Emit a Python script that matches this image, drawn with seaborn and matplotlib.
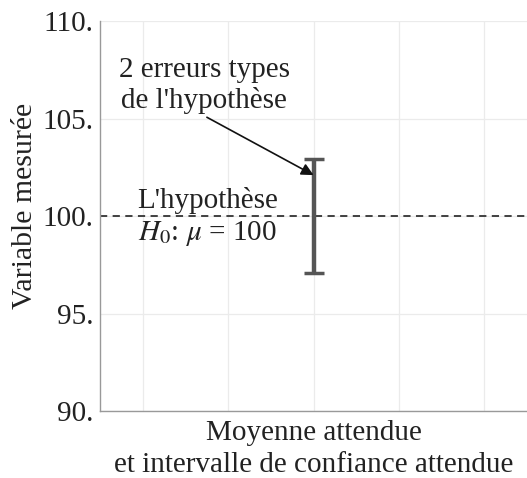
import numpy as np
import seaborn as sns
import matplotlib.pyplot as plt
from matplotlib.ticker import FuncFormatter

# data
mean_x = [0]
mean_y = [100.0]
half_width = [2.94]
h0_value = 100
y_ticks = [90, 95, 100, 105, 110]
x_grid = [-2, -1, 0, 1, 2]

sns.set_style('whitegrid')
plt.rcParams['font.family'] = ['Liberation Serif', 'DejaVu Serif']
plt.rcParams['mathtext.fontset'] = 'stix'
plt.rcParams['text.color'] = '#222222'

fig = plt.figure(figsize=(5.27, 4.78), dpi=100)
ax = fig.add_axes([0.19, 0.14, 0.81, 0.816])

# error bar (expected mean and confidence interval)
ax.errorbar(mean_x, mean_y, yerr=half_width, fmt='none', ecolor='#555555',
            elinewidth=3.2, capsize=7, capthick=2.5, zorder=3)

# hypothesis line
ax.axhline(h0_value, color='#333333', linestyle=(0, (4, 3)), linewidth=1.3, zorder=2)

# annotations
ax.annotate("2 erreurs types\nde l'hypothèse", xy=(0, 102.1), xytext=(-1.28, 106.7),
            ha='center', va='center', fontsize=21, linespacing=1.2,
            arrowprops=dict(arrowstyle='-|>', color='#111111', lw=1.2,
                            shrinkA=0, shrinkB=0, mutation_scale=18,
                            relpos=(0.48, 0.0)),
            zorder=4)
ax.text(-1.24, 100.82, "L'hypothèse", ha='center', va='center', fontsize=21)
ax.text(-1.24, 99.13, r"$H_0$: $\mu$ = 100", ha='center', va='center', fontsize=21)

ax.set_xlim(-2.5, 2.5)
ax.set_ylim(90, 110)
ax.set_xticks(x_grid)
ax.set_xticklabels([])
ax.set_yticks(y_ticks)
ax.yaxis.set_major_formatter(FuncFormatter(lambda v, p: f'{v:.0f}.'))
ax.tick_params(axis='y', labelsize=21, length=0, pad=5, labelcolor='#222222')
ax.tick_params(axis='x', length=0)
ax.grid(True, color='#ebebeb', linewidth=0.9)

for side in ['top', 'right']:
    ax.spines[side].set_visible(False)
for side in ['left', 'bottom']:
    ax.spines[side].set_color('#999999')
    ax.spines[side].set_linewidth(1.0)

ax.set_xlabel('Moyenne attendue\net intervalle de confiance attendue', fontsize=21,
              linespacing=1.3, labelpad=3, color='#222222')
ax.set_ylabel('Variable mesurée', fontsize=21.5, color='#222222')
ax.yaxis.set_label_coords(-0.145, 0.526)

plt.savefig('out.png', dpi=100)
plt.close()
